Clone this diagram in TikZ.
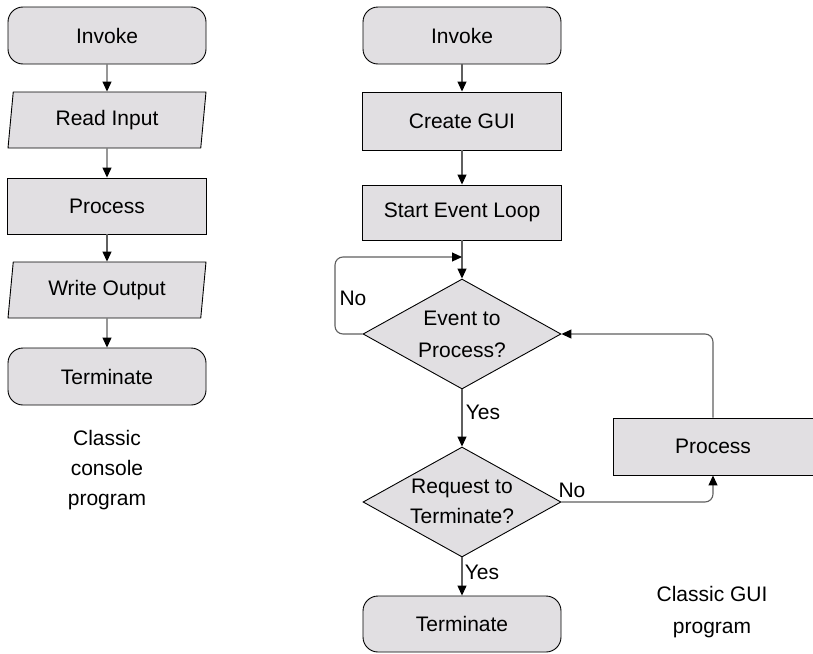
\documentclass[tikz,border=0pt]{standalone}
\usepackage{fontspec}
\setmainfont{Liberation Sans}
\usetikzlibrary{shapes.geometric,arrows.meta}
\definecolor{boxfill}{RGB}{225,223,226}
\definecolor{linegray}{RGB}{95,95,95}
\begin{document}
\begin{tikzpicture}[x=1pt,y=-1pt,
 base/.style={draw=black,line width=0.9pt,fill=boxfill,font=\fontsize{21}{24}\selectfont,inner sep=0pt,align=center},
 term/.style={base,rectangle,rounded corners=15pt,minimum width=198pt,minimum height=57pt},
 proc/.style={base,rectangle,minimum width=199pt,minimum height=56pt},
 io/.style={base,trapezium,trapezium left angle=75,trapezium right angle=105,trapezium stretches body,minimum width=198pt,minimum height=56pt},
 decide/.style={base,diamond,minimum width=198pt,minimum height=110pt},
 conn/.style={draw=linegray,line width=1.1pt,-{Triangle[length=10pt,width=9pt,color=black]}},
 lbl/.style={font=\fontsize{21}{24}\selectfont,inner sep=0pt,align=center}
]
\useasboundingbox (0,0) rectangle (813,653);
% left column
\node[term] (linv) at (107,35.5) {Invoke};
\node[io] (lread) at (107,120) {Read Input};
\node[proc] (lproc) at (107,206) {Process};
\node[io] (lwrite) at (107,290) {Write Output};
\node[term] (lterm) at (107,376.5) {Terminate};
\draw[conn] (linv) -- (lread);
\draw[conn] (lread) -- (lproc);
\draw[conn] (lproc) -- (lwrite);
\draw[conn] (lwrite) -- (lterm);
\node[lbl,font=\fontsize{21}{30}\selectfont] (lcap) at (107,470) {Classic\\console\\program};
% right column
\node[term] (rinv) at (462,35.5) {Invoke};
\node[proc,minimum height=58pt] (rgui) at (462,121) {Create GUI};
\node[proc,minimum height=55pt] (rloop) at (462,212.5) {Start Event Loop};
\node[decide] (d1) at (462,334) {};
\node[lbl,font=\fontsize{21}{32}\selectfont] (d1t) at (d1) {Event to\\Process?};
\node[decide] (d2) at (462,502) {};
\node[lbl,font=\fontsize{21}{30}\selectfont] (d2t) at ([yshift=1pt]d2) {Request to\\Terminate?};
\node[term,minimum height=56pt] (rterm) at (462,624) {Terminate};
\node[proc,minimum width=200pt,minimum height=57pt] (rproc) at (713,446.5) {Process};
\coordinate (loopin) at (462,257);
\coordinate (loopL) at (335,257);
\draw[conn] (rinv) -- (rgui);
\draw[conn] (rgui) -- (rloop);
\draw[conn] (rloop) -- (d1);
\draw[conn,rounded corners=8pt] (d1.west) -| (loopL) -- (loopin);
\draw[conn] (d1) -- (d2);
\draw[conn] (d2) -- (rterm);
\draw[conn,rounded corners=8pt] (d2.east) -| (rproc.south);
\draw[conn,rounded corners=8pt] (rproc.north) |- (d1.east);
\node[lbl] (no1) at (353,298) {No};
\node[lbl] (yes1) at (483,412) {Yes};
\node[lbl] (no2) at (572,490) {No};
\node[lbl] (yes2) at (482,572) {Yes};
\node[lbl,font=\fontsize{21}{32}\selectfont] (rcap) at (712,612) {Classic GUI\\program};
\end{tikzpicture}
\end{document}
